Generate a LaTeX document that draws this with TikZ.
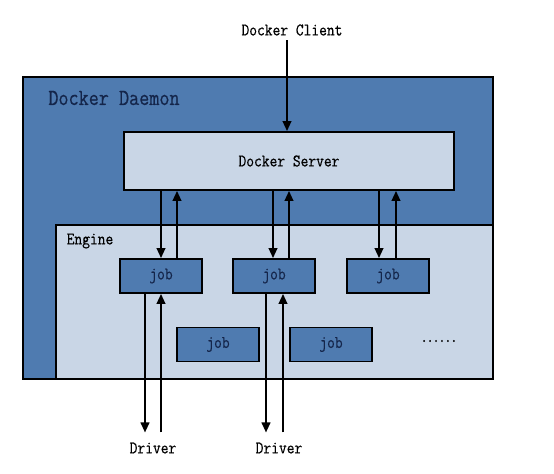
\documentclass[tikz,border=0pt]{standalone}
\usepackage{fontspec}
\setmonofont[FakeStretch=0.85, FakeBold=0.5]{Latin Modern Mono}
\newfontfamily\dotsfont[FakeStretch=0.85, FakeBold=2]{Latin Modern Mono}
\usepackage{tikz}
\usetikzlibrary{arrows.meta,positioning}
\definecolor{daemonblue}{HTML}{4F7BB0}
\definecolor{enginegray}{HTML}{C9D6E6}
\definecolor{jobtext}{HTML}{14254A}

\begin{document}
\begin{tikzpicture}[x=0.75pt, y=-0.75pt,
    box/.style={draw=black, line width=1.4pt, inner sep=0pt},
    jobbox/.style={box, fill=daemonblue, text=jobtext,
      minimum width=61.5pt, minimum height=25.5pt},
    flow/.style={-{Triangle[length=7.5pt,width=6.5pt]}, line width=1.4pt},
    label/.style={font=\ttfamily\fontsize{13.3}{15}\selectfont}]
      \useasboundingbox (0,0) rectangle (554,474);

      \node [box, fill=daemonblue, minimum width=352.5pt, minimum height=226.5pt]
            (daemon) at (258,228) {};
      \node [box, fill=enginegray, minimum width=327.75pt, minimum height=115.5pt]
            (engine) at (274.5,302) {};
      \node [box, fill=enginegray, minimum width=247.5pt, minimum height=43.5pt, label]
            (server) at (289,161) {Docker Server};

      \node [text=jobtext, font=\ttfamily\fontsize{17.3}{19}\selectfont]
            (daemonlbl) at (114,98) {Docker Daemon};
      \node [label] (enginelbl) at (90,241) {Engine};
      \node [label] (client) at (292,30) {Docker Client};

      \node [jobbox, label, text=jobtext] (job1) at (161,276) {job};
      \node [jobbox, label, text=jobtext] (job2) at (274,276) {job};
      \node [jobbox, label, text=jobtext] (job3) at (388,276) {job};
      \node [jobbox, label, text=jobtext] (job4) at (218,344.5) {job};
      \node [jobbox, label, text=jobtext] (job5) at (331,344.5) {job};
      \node [text=black, font=\dotsfont\fontsize{10}{11}\selectfont] (dots) at (439,341) {......};

      \node [label] (driver1) at (153,448) {Driver};
      \node [label] (driver2) at (279,448) {Driver};

      \draw [flow] (client.south -| server.north) ++(-1.5pt,0) coordinate (cin)
            -- (cin |- server.north);

      \draw [flow] (job1.north |- server.south) -- (job1.north);
      \draw [flow] ([xshift=12pt]job1.north) -- ([xshift=12pt]job1.north |- server.south);
      \draw [flow] ([xshift=-0.75pt]job2.north |- server.south) -- ([xshift=-0.75pt]job2.north);
      \draw [flow] ([xshift=11.25pt]job2.north) -- ([xshift=11.25pt]job2.north |- server.south);
      \draw [flow] ([xshift=-6.75pt]job3.north |- server.south) -- ([xshift=-6.75pt]job3.north);
      \draw [flow] ([xshift=6pt]job3.north) -- ([xshift=6pt]job3.north |- server.south);

      \draw [flow] ([xshift=-12pt]job1.south) -- ([xshift=-12pt,yshift=4pt]job1.south |- driver1.north);
      \draw [flow] ([yshift=4pt]job1.south |- driver1.north) -- (job1.south);
      \draw [flow] ([xshift=-6pt]job2.south) -- ([xshift=-6pt,yshift=4pt]job2.south |- driver2.north);
      \draw [flow] ([xshift=6.75pt,yshift=4pt]job2.south |- driver2.north) -- ([xshift=6.75pt]job2.south);
    \end{tikzpicture}
\end{document}
